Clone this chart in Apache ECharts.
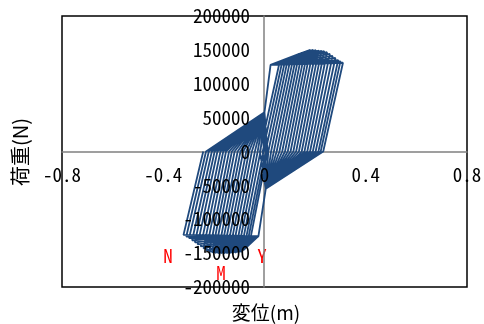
<!DOCTYPE html>
<html>
<head>
<meta charset="utf-8">
<script src="https://cdn.jsdelivr.net/npm/echarts@6/dist/echarts.min.js"></script>
<style>
  html, body { margin: 0; padding: 0; background: #fff; }
  #main { width: 484px; height: 324px; }
</style>
</head>
<body>
<div id="main"></div>
<script>
// 各サイクルの正側ピーク
var posPeakX = [0.06, 0.071, 0.082, 0.093, 0.104, 0.115, 0.126, 0.137, 0.148, 0.159, 0.17, 0.181, 0.192, 0.203, 0.214, 0.225, 0.236, 0.247, 0.258, 0.269, 0.28, 0.291, 0.30, 0.31];
var posPeakY = [132500, 134000, 135500, 137500, 139000, 140500, 142000, 144000, 145500, 147000, 148500, 150000, 150000, 149500, 149000, 148500, 148000, 146500, 144000, 141000, 138000, 135000, 133000, 131000];
// 除荷して荷重0になる変位
var posZeroX = [-0.018, -0.007, 0.004, 0.015, 0.026, 0.037, 0.048, 0.059, 0.07, 0.081, 0.092, 0.103, 0.114, 0.125, 0.136, 0.147, 0.158, 0.169, 0.18, 0.191, 0.202, 0.213, 0.222, 0.232];
// 負側ピーク
var negPeakX = [-0.06, -0.071, -0.082, -0.094, -0.105, -0.116, -0.128, -0.139, -0.15, -0.162, -0.173, -0.184, -0.196, -0.207, -0.218, -0.23, -0.241, -0.252, -0.264, -0.275, -0.286, -0.298, -0.309, -0.32];
var negPeakY = [-137000, -141000, -145000, -148500, -149000, -149500, -150000, -150000, -150000, -150500, -150000, -150000, -149500, -149000, -148000, -146000, -143000, -140000, -137000, -134000, -131000, -128000, -125500, -123000];
var negZeroX = [0.012, 0.005, -0.004, -0.016, -0.027, -0.038, -0.05, -0.061, -0.072, -0.084, -0.095, -0.106, -0.118, -0.129, -0.14, -0.152, -0.163, -0.174, -0.186, -0.197, -0.208, -0.22, -0.231, -0.242];
// スリップ終了点と降伏点
var posKnee = [[0.0, 58000], [0.024, 128000]];
var negKnee = [[0.005, -55000], [-0.024, -125000]];

var xTicks = { min: -0.8, max: 0.8, interval: 0.4 };
var yTicks = { min: -200000, max: 200000, interval: 50000 };

var path = [[0, 0]];
for (var i = 0; i < posPeakX.length; i++) {
  path.push(posKnee[0], posKnee[1]);
  path.push([posPeakX[i], posPeakY[i]]);
  path.push([posZeroX[i], 0]);
  path.push(negKnee[0], negKnee[1]);
  path.push([negPeakX[i], negPeakY[i]]);
  path.push([negZeroX[i], 0]);
}

var labelFont = '"Noto Sans Mono CJK JP", "DejaVu Sans Mono", monospace';
var plain = function (v) { return String(v); };

var myChart = echarts.init(document.getElementById('main'));
myChart.setOption({
  animation: false,
  grid: {
    left: 62, right: 17, top: 16, bottom: 37,
    containLabel: false, outerBoundsMode: 'none',
    show: true, borderColor: '#000', borderWidth: 1.5, backgroundColor: '#fff'
  },
  xAxis: [
    {
      // 目盛ラベル（線より前面）
      type: 'value', position: 'bottom', offset: -135, z: 5,
      min: xTicks.min, max: xTicks.max, interval: xTicks.interval,
      axisLine: { show: false, onZero: false },
      axisTick: { show: false },
      splitLine: { show: false },
      axisLabel: { color: '#000', fontSize: 19, fontFamily: labelFont, margin: 13, formatter: plain }
    },
    {
      // 原点を通る軸線（線の背面）
      type: 'value', position: 'bottom', offset: -135, z: 0,
      min: xTicks.min, max: xTicks.max, interval: xTicks.interval,
      axisLine: { onZero: false, lineStyle: { color: '#808080', width: 1.5 } },
      axisTick: { show: false },
      splitLine: { show: false },
      axisLabel: { show: false }
    }
  ],
  yAxis: [
    {
      type: 'value', position: 'left', offset: -202, z: 5,
      min: yTicks.min, max: yTicks.max, interval: yTicks.interval,
      axisLine: { show: false, onZero: false },
      axisTick: { show: false },
      splitLine: { show: false },
      axisLabel: { color: '#000', fontSize: 19, fontFamily: labelFont, margin: 14, formatter: plain }
    },
    {
      type: 'value', position: 'left', offset: -202, z: 0,
      min: yTicks.min, max: yTicks.max, interval: yTicks.interval,
      axisLine: { onZero: false, lineStyle: { color: '#808080', width: 1.5 } },
      axisTick: { show: false },
      splitLine: { show: false },
      axisLabel: { show: false }
    }
  ],
  graphic: [
    { type: 'text', x: 20, y: 152, rotation: Math.PI / 2,
      style: { text: '荷重(N)', font: '20px "Noto Sans CJK JP"', fill: '#000', align: 'center', verticalAlign: 'middle' } },
    { type: 'text', x: 266, y: 313,
      style: { text: '変位(m)', font: '19px "Noto Sans CJK JP"', fill: '#000', align: 'center', verticalAlign: 'middle' } },
    { type: 'text', x: 168, y: 256,
      style: { text: 'N', font: '19px ' + labelFont, fill: '#ff0000', align: 'center', verticalAlign: 'middle' } },
    { type: 'text', x: 221, y: 273,
      style: { text: 'M', font: '19px ' + labelFont, fill: '#ff0000', align: 'center', verticalAlign: 'middle' } },
    { type: 'text', x: 262, y: 256,
      style: { text: 'Y', font: '19px ' + labelFont, fill: '#ff0000', align: 'center', verticalAlign: 'middle' } }
  ],
  series: [
    {
      type: 'line',
      xAxisIndex: 0,
      yAxisIndex: 0,
      data: path,
      showSymbol: false,
      lineStyle: { color: '#1F497D', width: 1.8 },
      z: 2
    }
  ]
});
window.addEventListener('resize', function () {
  myChart.resize();
});
</script>
</body>
</html>
